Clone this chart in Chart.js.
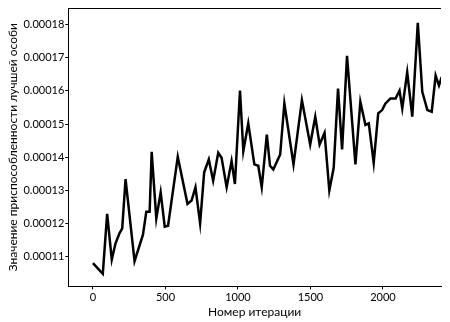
<!DOCTYPE html>
<html>
<head>
<meta charset="utf-8">
<script src="https://cdn.jsdelivr.net/npm/chart.js@4/dist/chart.umd.min.js"></script>
<style>
  body { margin: 0; background: #fff; }
</style>
</head>
<body>
<canvas id="fitnessChart" width="450" height="322"></canvas>
<script>
// values (iteration, best fitness)
var iterations = [0, 68, 98, 130, 156, 183, 202, 225, 287, 345, 368, 391, 405, 437, 467, 495, 518,
  585, 652, 680, 707, 739, 767, 799, 829, 864, 887, 922, 956, 979, 1014, 1037, 1071, 1113, 1140,
  1164, 1199, 1221, 1244, 1291, 1320, 1383, 1441, 1498, 1533, 1563, 1597, 1630, 1660, 1690, 1718,
  1752, 1810, 1844, 1879, 1902, 1936, 1967, 1994, 2017, 2052, 2087, 2114, 2133, 2167, 2202, 2240,
  2271, 2306, 2336, 2363, 2386, 2405];
var fitness = [108.0, 104.8, 122.9, 109.1, 114.0, 117.0, 118.5, 133.4, 108.6, 116.6, 123.5, 123.5,
  141.6, 121.5, 129.4, 119.0, 119.3, 140.1, 125.9, 126.9, 130.9, 120.0, 135.4, 139.3, 132.9, 141.3,
  139.8, 130.9, 138.8, 131.9, 160.1, 141.8, 150.2, 137.8, 137.4, 130.9, 146.8, 137.4, 136.3, 140.8,
  156.2, 137.8, 157.2, 143.8, 152.2, 143.8, 147.3, 129.9, 136.8, 160.7, 142.3, 170.6, 137.8, 156.7,
  149.7, 150.2, 138.3, 153.2, 154.2, 156.2, 157.7, 157.7, 160.1, 154.7, 165.6, 152.2, 180.5, 159.7,
  154.2, 153.7, 164.6, 161.6, 164.2];
var xTicks = [0, 500, 1000, 1500, 2000];
var yTicks = [0.00011, 0.00012, 0.00013, 0.00014, 0.00015, 0.00016, 0.00017, 0.00018];

var points = [];
for (var i = 0; i < iterations.length; i++) {
  points.push({ x: iterations[i], y: fitness[i] * 1e-6 });
}

// top spine (no right spine in the original)
var topLine = {
  id: 'topLine',
  afterDraw: function (chart) {
    var a = chart.chartArea, ctx = chart.ctx;
    ctx.save();
    ctx.strokeStyle = '#000';
    ctx.lineWidth = 1;
    ctx.beginPath();
    ctx.moveTo(a.left, a.top + 0.5);
    ctx.lineTo(a.right, a.top + 0.5);
    ctx.stroke();
    ctx.restore();
  }
};

var font = { family: 'Lato', size: 11 };

new Chart(document.getElementById('fitnessChart'), {
  type: 'line',
  data: {
    datasets: [{
      data: points,
      borderColor: '#000',
      borderWidth: 2.5,
      pointRadius: 0,
      lineTension: 0,
      fill: false
    }]
  },
  options: {
    responsive: false,
    animation: false,
    layout: { padding: { left: 4, right: 9, top: 8, bottom: 3 } },
    plugins: { legend: { display: false }, tooltip: { enabled: false } },
    scales: {
      x: {
        type: 'linear',
        min: -170,
        max: 2400,
        afterBuildTicks: function (axis) {
          axis.ticks = xTicks.map(function (v) { return { value: v }; });
        },
        ticks: {
          color: '#000', font: font, maxRotation: 0, padding: 1,
          callback: function (v) { return String(v); }
        },
        grid: { display: true, drawOnChartArea: false, color: '#000', tickLength: 3 },
        border: { color: '#000', width: 1 },
        title: { display: true, text: 'Номер итерации', color: '#000', font: { family: 'Lato', size: 12 }, padding: 0 }
      },
      y: {
        min: 0.000101,
        max: 0.000185,
        afterBuildTicks: function (axis) {
          axis.ticks = yTicks.map(function (v) { return { value: v }; });
        },
        ticks: {
          color: '#000', font: font, padding: 1,
          callback: function (v) { return v.toFixed(5); }
        },
        grid: { display: true, drawOnChartArea: false, color: '#000', tickLength: 3 },
        border: { color: '#000', width: 1 },
        title: { display: true, text: 'Значение приспособленности лучшей особи', color: '#000', font: { family: 'Lato', size: 12 }, padding: 2 }
      }
    }
  },
  plugins: [topLine]
});
</script>
</body>
</html>
